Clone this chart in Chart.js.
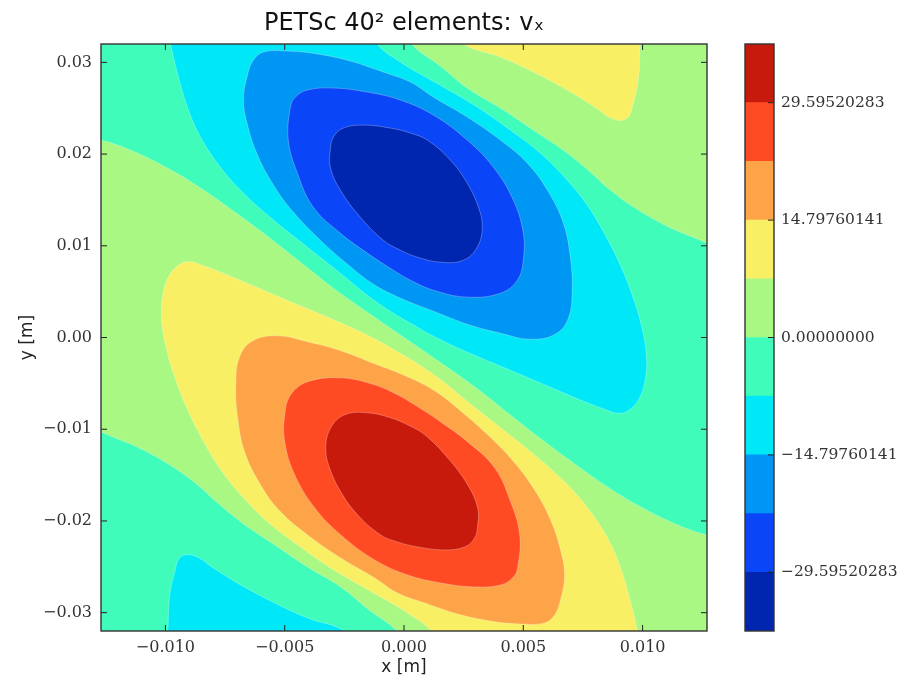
<!DOCTYPE html>
<html>
<head>
<meta charset="utf-8">
<script src="https://cdn.jsdelivr.net/npm/chart.js@4.4.1/dist/chart.umd.min.js"></script>
<style>
  body { margin: 0; background: #fff; }
  #wrap { position: relative; width: 917px; height: 678px; }
  canvas { position: absolute; top: 0; }
</style>
</head>
<body>
<div id="wrap">
  <canvas id="plot" width="917" height="678" style="left:0"></canvas>
  <canvas id="cbar" width="173" height="678" style="left:744px"></canvas>
</div>
<script>
// axes (m)
const xRange = [-0.0127, 0.0127];
const yRange = [-0.032, 0.032];
const xTicks = [-0.010, -0.005, 0.000, 0.005, 0.010];
const yTicks = [-0.03, -0.02, -0.01, 0.00, 0.01, 0.02, 0.03];

// contour levels of v_x and the colorbar labels
const levels = [-36.99400354, -29.59520283, -22.19640212, -14.79760141, -7.39880071, 0,
                7.39880071, 14.79760141, 22.19640212, 29.59520283, 36.99400354];
const cbTicks = [-29.59520283, -14.79760141, 0, 14.79760141, 29.59520283];
const levelColors = ["#0026b0", "#0a46f8", "#0096f4", "#00e8f8", "#40fcba",
                     "#a8f883", "#f8ef64", "#fca447", "#ff4b24", "#c81a0c"];

// contour outlines (mm), each one a closed loop
// v < -29.6 (core of the negative lobe)
const darkBlueX = [-3.09, -2.96, -2.54, -1.70, -0.57, 0.27, 0.98, 1.94, 2.65, 3.12, 3.28, 3.07, 2.49, 1.52, 0.56, -0.15, -0.87, -1.83, -2.67, -3.09];
const darkBlueY = [20.43, 21.85, 22.83, 23.16, 22.83, 22.29, 21.52, 19.34, 16.83, 14.21, 12.03, 9.85, 8.43, 8.21, 8.76, 9.52, 10.61, 13.12, 16.07, 18.58];
// v > 29.6
const darkRedX = [3.09, 2.96, 2.54, 1.70, 0.57, -0.27, -0.98, -1.94, -2.65, -3.12, -3.28, -3.07, -2.49, -1.52, -0.56, 0.15, 0.87, 1.83, 2.67, 3.09];
const darkRedY = [-20.43, -21.85, -22.83, -23.16, -22.83, -22.29, -21.52, -19.34, -16.83, -14.21, -12.03, -9.85, -8.43, -8.21, -8.76, -9.52, -10.61, -13.12, -16.07, -18.58];
// v < -22.2
const blueX = [-4.76, -4.55, -4.05, -2.96, -1.54, -0.15, 1.23, 2.65, 3.74, 4.58, 5.00, 5.00, 4.75, 4.04, 2.65, 1.23, 0.27, -0.45, -1.54, -2.67, -3.80, -4.47, -4.85];
const blueY = [25.12, 26.21, 26.98, 27.20, 26.76, 25.89, 24.25, 21.52, 18.58, 14.98, 11.38, 8.43, 6.25, 4.83, 4.40, 5.16, 6.25, 7.34, 9.20, 11.38, 14.21, 17.92, 21.52];
// v > 22.2
const redX = [4.76, 4.55, 4.05, 2.96, 1.54, 0.15, -1.23, -2.65, -3.74, -4.58, -5.00, -5.00, -4.75, -4.04, -2.65, -1.23, -0.27, 0.45, 1.54, 2.67, 3.80, 4.47, 4.85];
const redY = [-25.12, -26.21, -26.98, -27.20, -26.76, -25.89, -24.25, -21.52, -18.58, -14.98, -11.38, -8.43, -6.25, -4.83, -4.40, -5.16, -6.25, -7.34, -9.20, -11.38, -14.21, -17.92, -21.52];
// v < -14.8
const lightBlueX = [-5.89, -4.89, -3.63, -2.25, -0.87, 0.27, 1.23, 2.65, 4.04, 5.17, 6.01, 6.68, 6.97, 7.05, 6.89, 6.34, 5.29, 4.04, 2.65, 1.23, -0.15, -1.28, -2.37, -3.51, -4.64, -5.47, -6.14, -6.56, -6.73, -6.56, -6.31];
const lightBlueY = [31.12, 31.23, 30.91, 30.14, 28.94, 27.85, 26.21, 24.03, 21.52, 19.01, 16.07, 12.47, 8.76, 5.16, 2.11, 0.36, -0.19, 0.47, 1.45, 2.87, 4.29, 5.81, 8.00, 10.61, 13.67, 16.61, 19.89, 23.16, 25.89, 28.61, 30.25];
// v > 14.8
const orangeX = [5.89, 4.89, 3.63, 2.25, 0.87, -0.27, -1.23, -2.65, -4.04, -5.17, -6.01, -6.68, -6.97, -7.05, -6.89, -6.34, -5.29, -4.04, -2.65, -1.23, 0.15, 1.28, 2.37, 3.51, 4.64, 5.47, 6.14, 6.56, 6.73, 6.56, 6.31];
const orangeY = [-31.12, -31.23, -30.91, -30.14, -28.94, -27.85, -26.21, -24.03, -21.52, -19.01, -16.07, -12.47, -8.76, -5.16, -2.11, -0.36, 0.19, -0.47, -1.45, -2.87, -4.29, -5.81, -8.00, -10.61, -13.67, -16.61, -19.89, -23.16, -25.89, -28.61, -30.25];
// v < -7.4, band around the negative lobe
const cyanX = [-9.96, -9.79, -9.50, -9.08, -8.53, -7.70, -6.73, -5.47, -4.05, -2.67, -1.54, -0.45, 0.27, 1.23, 2.65, 4.75, 6.13, 7.52, 8.52, 8.94, 9.36, 9.82, 10.11, 10.16, 9.95, 9.57, 9.07, 8.44, 7.68, 6.76, 5.71, 4.46, 3.07, 1.65, 0.39, -0.15, -1.12, -1.20];
const cyanY = [33.74, 32.00, 28.83, 25.12, 21.85, 18.58, 15.74, 12.80, 9.85, 7.01, 4.61, 2.65, 1.56, 0.14, -1.60, -3.89, -5.42, -6.95, -7.93, -8.26, -8.04, -6.84, -4.66, -1.93, 1.34, 4.61, 7.89, 11.16, 14.43, 17.38, 20.11, 22.61, 25.12, 27.31, 29.16, 30.03, 32.00, 33.74];
// v > 7.4, band around the positive lobe
const yellowX = [9.96, 9.79, 9.50, 9.08, 8.53, 7.70, 6.73, 5.47, 4.05, 2.67, 1.54, 0.45, -0.27, -1.23, -2.65, -4.75, -6.13, -7.52, -8.52, -8.94, -9.36, -9.82, -10.11, -10.16, -9.95, -9.57, -9.07, -8.44, -7.68, -6.76, -5.71, -4.46, -3.07, -1.65, -0.39, 0.15, 1.12, 1.20];
const yellowY = [-33.74, -32.00, -28.83, -25.12, -21.85, -18.58, -15.74, -12.80, -9.85, -7.01, -4.61, -2.65, -1.56, -0.14, 1.60, 3.89, 5.42, 6.95, 7.93, 8.26, 8.04, 6.84, 4.66, 1.93, -1.34, -4.61, -7.89, -11.16, -14.43, -17.38, -20.11, -22.61, -25.12, -27.31, -29.16, -30.03, -32.00, -33.74];
// v > 7.4 in the top right corner
const yellowTopX = [9.95, 2.15, 2.49, 4.04, 5.42, 6.84, 7.93, 8.77, 9.36, 9.61, 9.82, 9.90];
const yellowTopY = [33.74, 33.74, 32.00, 30.58, 28.94, 26.98, 25.23, 23.81, 23.92, 25.56, 28.07, 32.00];
// v < -7.4 in the bottom left corner
const cyanBottomX = [-2.15, -2.49, -4.04, -5.42, -6.84, -7.93, -8.77, -9.36, -9.61, -9.82, -9.90, -9.95];
const cyanBottomY = [-33.74, -32.00, -30.58, -28.94, -26.98, -25.23, -23.81, -23.92, -25.56, -28.07, -32.00, -33.74];
// v > 0 in the top right corner
const greenTopX = [13.34, 0.06, 0.31, 1.52, 2.65, 4.04, 5.42, 6.84, 7.81, 8.65, 9.69, 11.03, 12.42, 12.71, 13.34];
const greenTopY = [33.74, 33.74, 32.00, 29.60, 27.20, 25.01, 22.61, 20.11, 18.03, 16.07, 14.11, 12.14, 10.61, 10.29, 9.74];
// v > 0 across the middle (zero contour through the centre)
const greenX = [-13.31, -12.72, -11.47, -9.92, -8.53, -7.15, -5.73, -4.34, -2.96, -1.54, 0, 1.54, 2.96, 4.34, 5.73, 7.15, 8.53, 9.92, 11.47, 12.72, 13.31, 13.34,
                -0.06, -0.31, -1.52, -2.65, -4.04, -5.42, -6.84, -7.81, -8.65, -9.69, -11.03, -12.42, -12.71, -13.34];
const greenY = [21.52, 21.52, 20.43, 18.47, 16.29, 13.78, 11.05, 8.21, 5.38, 2.76, 0, -2.76, -5.38, -8.21, -11.05, -13.78, -16.29, -18.47, -20.43, -21.52, -21.52, -33.74,
                -33.74, -32.00, -29.60, -27.20, -25.01, -22.61, -20.11, -18.03, -16.07, -14.11, -12.14, -10.61, -10.29, -9.74];

const SERIF = "'DejaVu Serif', serif";
const SANS = "'DejaVu Sans', sans-serif";
const fmt = (v, d) => v.toFixed(d).replace("-", "\u2212");

function region(xs, ys, color) {
  return {
    data: xs.map((x, i) => ({ x: x / 1000, y: ys[i] / 1000 })),
    backgroundColor: color,
    borderColor: "rgba(255,255,255,0.35)",
    borderWidth: 0.8,
    fill: "shape",
    pointRadius: 0,
    tension: 0.4
  };
}

// first dataset is drawn on top
const datasets = [
  region(darkBlueX, darkBlueY, levelColors[0]),
  region(darkRedX, darkRedY, levelColors[9]),
  region(blueX, blueY, levelColors[1]),
  region(redX, redY, levelColors[8]),
  region(lightBlueX, lightBlueY, levelColors[2]),
  region(orangeX, orangeY, levelColors[7]),
  region(cyanX, cyanY, levelColors[3]),
  region(yellowX, yellowY, levelColors[6]),
  region(cyanBottomX, cyanBottomY, levelColors[3]),
  region(yellowTopX, yellowTopY, levelColors[6]),
  region(greenTopX, greenTopY, levelColors[5]),
  region(greenX, greenY, levelColors[5])
];

// contour outlines are closed curves: let the spline wrap round
const closedOutlines = {
  id: "closedOutlines",
  afterDatasetUpdate(chart, args) {
    const line = args.meta.dataset;
    if (line) { line._loop = true; line._fullLoop = true; }
  }
};

// background band (-7.4 .. 0), frame and inward ticks
const framePlugin = {
  id: "frame",
  beforeDatasetsDraw(chart) {
    const { ctx, chartArea: a } = chart;
    ctx.save();
    ctx.fillStyle = levelColors[4];
    ctx.fillRect(a.left, a.top, a.width, a.height);
    ctx.restore();
  },
  afterDatasetsDraw(chart) {
    const { ctx, chartArea: a, scales } = chart;
    ctx.save();
    ctx.strokeStyle = "#222";
    ctx.lineWidth = 1;
    ctx.beginPath();
    for (const v of xTicks) {
      const p = scales.x.getPixelForValue(v);
      ctx.moveTo(p, a.bottom); ctx.lineTo(p, a.bottom - 6);
      ctx.moveTo(p, a.top); ctx.lineTo(p, a.top + 6);
    }
    for (const v of yTicks) {
      const p = scales.y.getPixelForValue(v);
      ctx.moveTo(a.left, p); ctx.lineTo(a.left + 6, p);
      ctx.moveTo(a.right, p); ctx.lineTo(a.right - 6, p);
    }
    ctx.stroke();
    ctx.lineWidth = 1.4;
    ctx.strokeStyle = "#333";
    ctx.strokeRect(a.left, a.top, a.width, a.height);
    ctx.restore();
  }
};

new Chart(document.getElementById("plot"), {
  type: "line",
  data: { datasets },
  options: {
    responsive: false,
    animation: false,
    layout: { padding: { right: 210 } },
    elements: { line: { capBezierPoints: false }, point: { radius: 0 } },
    plugins: {
      legend: { display: false },
      tooltip: { enabled: false },
      title: {
        display: true,
        fullSize: false,
        text: "PETSc 40\u00b2 elements: v\u2093",
        color: "#111",
        font: { family: SANS, size: 24, weight: "normal" },
        padding: { top: 9, bottom: 6.2 }
      }
    },
    scales: {
      x: {
        type: "linear",
        min: xRange[0],
        max: xRange[1],
        afterFit(s) { s.height = 47; },
        afterBuildTicks(s) { s.ticks = xTicks.map(v => ({ value: v })); },
        grid: { display: false, drawTicks: false },
        border: { display: false },
        ticks: { padding: 7, color: "#333", font: { family: SERIF, size: 16 }, callback: v => fmt(v, 3) },
        title: { display: true, text: "x [m]", color: "#222", font: { family: SANS, size: 17 }, padding: { top: 0, bottom: 0 } }
      },
      y: {
        type: "linear",
        min: yRange[0],
        max: yRange[1],
        afterFit(s) { s.width = 101; },
        afterBuildTicks(s) { s.ticks = yTicks.map(v => ({ value: v })); },
        grid: { display: false, drawTicks: false },
        border: { display: false },
        ticks: { padding: 9, color: "#333", font: { family: SERIF, size: 16 }, callback: v => fmt(v, 2) },
        title: { display: true, text: "y [m]", color: "#222", font: { family: SANS, size: 17 }, padding: { top: 17, bottom: 0 } }
      }
    }
  },
  plugins: [closedOutlines, framePlugin]
});

// colorbar: one floating bar per contour band
const cbarFrame = {
  id: "cbarFrame",
  afterDatasetsDraw(chart) {
    const { ctx, chartArea: a, scales } = chart;
    ctx.save();
    ctx.strokeStyle = "#222";
    ctx.lineWidth = 1;
    ctx.beginPath();
    for (const v of cbTicks) {
      const p = scales.y.getPixelForValue(v);
      ctx.moveTo(a.right, p); ctx.lineTo(a.right - 6, p);
    }
    ctx.stroke();
    ctx.lineWidth = 1.4;
    ctx.strokeStyle = "#333";
    ctx.strokeRect(a.left, a.top, a.width, a.height);
    ctx.restore();
  }
};

new Chart(document.getElementById("cbar"), {
  type: "bar",
  data: {
    labels: ["v"],
    datasets: levelColors.map((c, i) => ({
      data: [[levels[i], levels[i + 1]]],
      backgroundColor: c,
      borderWidth: 0,
      grouped: false,
      barPercentage: 1,
      categoryPercentage: 1
    }))
  },
  options: {
    responsive: false,
    animation: false,
    layout: { padding: { left: 1, top: 44, bottom: 47, right: 0 } },
    plugins: { legend: { display: false }, tooltip: { enabled: false } },
    scales: {
      x: { display: false },
      y: {
        position: "right",
        min: levels[0],
        max: levels[levels.length - 1],
        afterFit(s) { s.width = 143; },
        afterBuildTicks(s) { s.ticks = cbTicks.map(v => ({ value: v })); },
        grid: { display: false, drawTicks: false },
        border: { display: false },
        ticks: { padding: 7, color: "#333", font: { family: SERIF, size: 15.5 }, callback: v => fmt(v, 8) }
      }
    }
  },
  plugins: [cbarFrame]
});
</script>
</body>
</html>
